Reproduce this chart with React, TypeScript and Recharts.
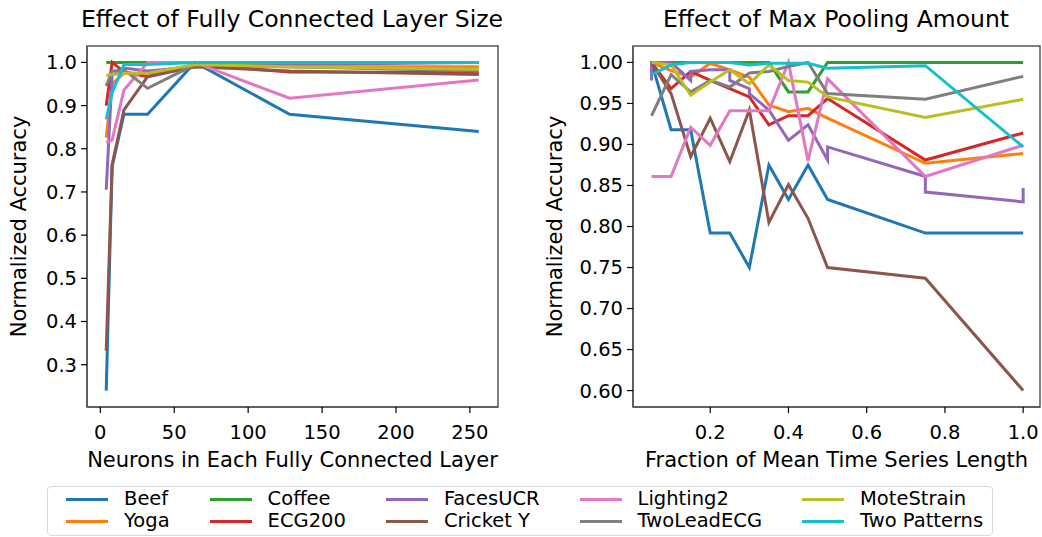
import { LineChart, Line, XAxis, YAxis, ReferenceArea } from "recharts";

const FONT = "'DejaVu Sans', sans-serif";

const NAMES = [
  "Beef",
  "Yoga",
  "Coffee",
  "ECG200",
  "FacesUCR",
  "Cricket Y",
  "Lighting2",
  "TwoLeadECG",
  "MoteStrain",
  "Two Patterns",
];
const COLORS = [
  "#1f77b4",
  "#ff7f0e",
  "#2ca02c",
  "#d62728",
  "#9467bd",
  "#8c564b",
  "#e377c2",
  "#7f7f7f",
  "#bcbd22",
  "#17becf",
];

// left panel: neurons per fully connected layer
const NEURONS = [4, 8, 16, 32, 64, 128, 256];
const fcBeef = [0.24, 0.76, 0.88, 0.88, 1.0, 0.88, 0.84];
const fcYoga = [0.826, 0.95, 0.975, 0.975, 0.99, 0.99, 0.99];
const fcCoffee = [1.0, 1.0, 1.0, 1.0, 1.0, 1.0, 1.0];
const fcEcg = [0.9, 1.0, 0.978, 0.967, 0.995, 0.978, 0.977];
const fcFaces = [0.705, 0.97, 0.987, 0.98, 0.99, 0.995, 1.0];
const fcCricket = [0.332, 0.763, 0.89, 0.967, 0.99, 0.98, 0.972];
const fcLighting = [0.814, 0.82, 0.936, 1.0, 1.0, 0.917, 0.959];
const fcTwoLead = [0.945, 0.98, 0.983, 0.94, 0.995, 0.99, 0.98];
const fcMote = [0.97, 0.972, 0.975, 0.975, 0.995, 0.99, 0.984];
const fcPatterns = [0.868, 0.93, 0.995, 0.995, 1.0, 1.0, 1.0];

// right panel: pooling fraction of mean series length
const POOL = [0.05, 0.1, 0.15, 0.2, 0.25, 0.3, 0.35, 0.4, 0.45, 0.5, 0.75, 1.0];
const poolBeef = [1.0, 0.918, 0.918, 0.792, 0.792, 0.75, 0.875, 0.833, 0.875, 0.833, 0.792, 0.792];
const poolYoga = [1.0, 0.99, 0.982, 0.999, 0.991, 0.982, 0.948, 0.94, 0.944, 0.932, 0.877, 0.889];
const poolCoffee = [1.0, 1.0, 1.0, 1.0, 1.0, 1.0, 1.0, 0.964, 0.964, 1.0, 1.0, 1.0];
const poolEcg = [1.0, 0.968, 0.989, 0.978, 0.968, 0.958, 0.924, 0.935, 0.935, 0.956, 0.881, 0.914];
const poolFacesX = [0.05, 0.05, 0.1, 0.15, 0.15, 0.2, 0.25, 0.25, 0.3, 0.3, 0.35, 0.4, 0.45, 0.5, 0.5, 0.75, 0.75, 1.0, 1.0];
const poolFaces = [0.978, 1.0, 1.0, 0.978, 0.989, 0.991, 0.991, 0.978, 0.968, 0.962, 0.942, 0.905, 0.924, 0.881, 0.897, 0.861, 0.842, 0.83, 0.847];
const poolCricket = [1.0, 0.962, 0.885, 0.932, 0.879, 0.942, 0.805, 0.851, 0.81, 0.75, 0.737, 0.6];
const poolLighting = [0.861, 0.861, 0.921, 0.899, 0.941, 0.941, 0.941, 1.0, 0.88, 0.98, 0.861, 0.899];
const poolTwoLead = [0.935, 0.985, 0.964, 0.978, 0.97, 0.987, 0.989, 0.995, 1.0, 0.962, 0.955, 0.983];
const poolMote = [1.0, 0.997, 0.96, 0.976, 0.991, 0.974, 0.997, 0.978, 0.976, 0.958, 0.933, 0.955];
const poolPatterns = [0.985, 0.997, 1.0, 1.0, 1.0, 0.997, 0.999, 0.999, 0.999, 0.993, 0.996, 0.897];

const FC_TICKS_X = [0, 50, 100, 150, 200, 250];
const FC_TICKS_Y = [0.3, 0.4, 0.5, 0.6, 0.7, 0.8, 0.9, 1.0];
const POOL_TICKS_X = [0.2, 0.4, 0.6, 0.8, 1.0];
const POOL_TICKS_Y = [0.6, 0.65, 0.7, 0.75, 0.8, 0.85, 0.9, 0.95, 1.0];

const zip = (xs: number[], ys: number[]) => ys.map((y, i) => ({ x: xs[i], y }));

const fcSeries = [fcBeef, fcYoga, fcCoffee, fcEcg, fcFaces, fcCricket, fcLighting, fcTwoLead, fcMote, fcPatterns].map(
  (ys) => zip(NEURONS, ys)
);
const poolSeries = [
  zip(POOL, poolBeef),
  zip(POOL, poolYoga),
  zip(POOL, poolCoffee),
  zip(POOL, poolEcg),
  zip(poolFacesX, poolFaces),
  zip(POOL, poolCricket),
  zip(POOL, poolLighting),
  zip(POOL, poolTwoLead),
  zip(POOL, poolMote),
  zip(POOL, poolPatterns),
];

const tickStyle = { fontSize: 19.5, fill: "#000", fontFamily: FONT };
const labelStyle = { fontSize: 21, fill: "#000", fontFamily: FONT, textAnchor: "middle" as const };
const spine = { stroke: "#555", strokeWidth: 1.5 };

interface PanelProps {
  series: { x: number; y: number }[][];
  xDomain: [number, number];
  yDomain: [number, number];
  xTicks: number[];
  yTicks: number[];
  xFmt: (v: number) => string;
  yFmt: (v: number) => string;
  xLabel: string;
  yAxisWidth: number;
  yLabelOffset: number;
  width: number;
}

function Panel(p: PanelProps) {
  return (
    <LineChart width={p.width} height={480} margin={{ top: 46, right: 2, bottom: 13, left: 0 }}>
      <XAxis
        type="number"
        dataKey="x"
        domain={p.xDomain}
        allowDataOverflow
        ticks={p.xTicks}
        tickFormatter={p.xFmt}
        height={60}
        tickSize={6}
        tickMargin={12}
        tick={tickStyle}
        tickLine={{ stroke: "#000", strokeWidth: 1.2 }}
        axisLine={spine}
        label={{ value: p.xLabel, position: "insideBottom", offset: 0, style: labelStyle }}
      />
      <YAxis
        type="number"
        domain={p.yDomain}
        allowDataOverflow
        ticks={p.yTicks}
        tickFormatter={p.yFmt}
        width={p.yAxisWidth}
        tickSize={6}
        tickMargin={4}
        tick={tickStyle}
        tickLine={{ stroke: "#000", strokeWidth: 1.2 }}
        axisLine={spine}
        label={{
          value: "Normalized Accuracy",
          angle: -90,
          position: "insideLeft",
          offset: p.yLabelOffset,
          style: labelStyle,
        }}
      />
      {p.series.map((d, i) => (
        <Line
          key={NAMES[i]}
          data={d}
          dataKey="y"
          type="linear"
          stroke={COLORS[i]}
          strokeWidth={3}
          dot={false}
          activeDot={false}
          isAnimationActive={false}
        />
      ))}
      <ReferenceArea
        x1={p.xDomain[0]}
        x2={p.xDomain[1]}
        y1={p.yDomain[0]}
        y2={p.yDomain[1]}
        fill="none"
        fillOpacity={0}
        stroke="#555"
        strokeWidth={1.5}
        ifOverflow="visible"
      />
    </LineChart>
  );
}

function FigureLegend() {
  const cols = [0, 2, 4, 6, 8];
  return (
    <div
      style={{
        position: "absolute",
        left: 47,
        top: 486,
        width: 946,
        height: 50,
        boxSizing: "border-box",
        border: "1px solid #d9d9d9",
        borderRadius: 4,
        display: "flex",
        paddingLeft: 18,
        paddingTop: 1,
        gap: 40,
        fontFamily: FONT,
        fontSize: 19.5,
        lineHeight: "22px",
      }}
    >
      {cols.map((c) => (
        <div key={c} style={{ display: "flex", flexDirection: "column" }}>
          {[c, c + 1].map((i) => (
            <div key={i} style={{ display: "flex", alignItems: "center", whiteSpace: "nowrap" }}>
              <span style={{ width: 42, height: 3, background: COLORS[i], marginRight: 16 }} />
              <span>{NAMES[i]}</span>
            </div>
          ))}
        </div>
      ))}
    </div>
  );
}

const titleStyle = {
  position: "absolute" as const,
  top: 4,
  fontFamily: FONT,
  fontSize: 23.5,
  lineHeight: "30px",
  textAlign: "center" as const,
  transform: "translateX(-50%)",
  whiteSpace: "nowrap" as const,
};

export default function App() {
  return (
    <div
      style={{
        position: "fixed",
        left: 0,
        top: 0,
        width: 1042,
        height: 537,
        background: "#fff",
        overflow: "hidden",
      }}
    >
      <div style={{ ...titleStyle, left: 292 }}>Effect of Fully Connected Layer Size</div>
      <div style={{ ...titleStyle, left: 836 }}>Effect of Max Pooling Amount</div>
      <div style={{ position: "absolute", left: 0, top: 0 }}>
        <Panel
          width={500}
          series={fcSeries}
          xDomain={[-9, 269]}
          yDomain={[0.202, 1.038]}
          xTicks={FC_TICKS_X}
          yTicks={FC_TICKS_Y}
          xFmt={(v) => String(v)}
          yFmt={(v) => v.toFixed(1)}
          xLabel="Neurons in Each Fully Connected Layer"
          yAxisWidth={87}
          yLabelOffset={19}
        />
      </div>
      <div style={{ position: "absolute", left: 525, top: 0 }}>
        <Panel
          width={517}
          series={poolSeries}
          xDomain={[0.0026, 1.043]}
          yDomain={[0.58, 1.02]}
          xTicks={POOL_TICKS_X}
          yTicks={POOL_TICKS_Y}
          xFmt={(v) => v.toFixed(1)}
          yFmt={(v) => v.toFixed(2)}
          xLabel="Fraction of Mean Time Series Length"
          yAxisWidth={108}
          yLabelOffset={30}
        />
      </div>
      <FigureLegend />
    </div>
  );
}
